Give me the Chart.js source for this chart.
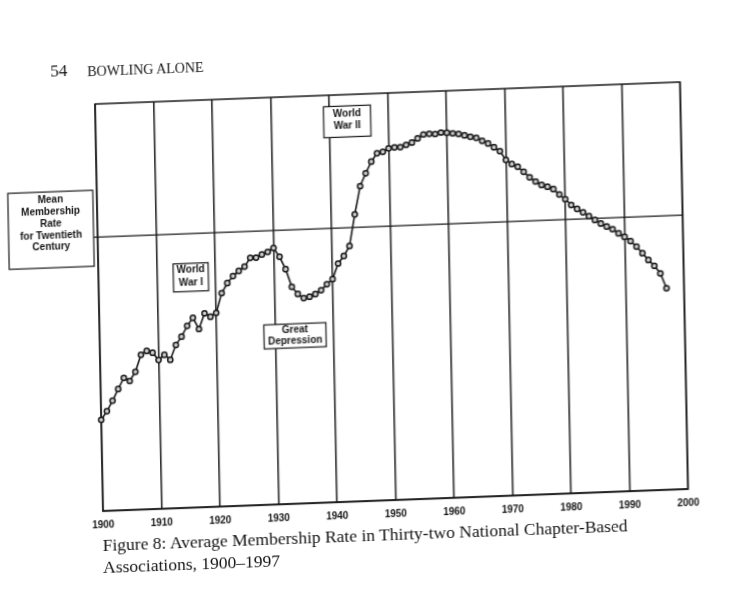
<!DOCTYPE html>
<html lang="en">
<head>
    <meta charset="utf-8">
    <title>Figure 8: Average Membership Rate in Thirty-two National Chapter-Based Associations, 1900–1997</title>
    <script src="https://cdn.jsdelivr.net/npm/chart.js"></script>
    <style>
        html, body {
            margin: 0;
            padding: 0;
            background: #fff;
        }

        body {
            width: 731px;
            height: 605px;
            overflow: hidden;
        }

        /* the scanned page sits slightly skewed, so the whole sheet is skewed the same way */
        .page {
            position: relative;
            width: 731px;
            height: 605px;
            transform-origin: 95px 104px;
            transform: matrix(1, -0.0376, 0.0197, 1, 0, 0);
            color: #141414;
        }

        .page canvas {
            position: absolute;
            left: 0;
            top: 0;
        }

        .folio {
            position: absolute;
            left: 51px;
            top: 61px;
            font-family: "Liberation Serif", serif;
            font-size: 17px;
            line-height: 17px;
        }

        .running-head {
            position: absolute;
            left: 88px;
            top: 65px;
            font-family: "Liberation Serif", serif;
            font-size: 14px;
            line-height: 14px;
        }

        .caption {
            position: absolute;
            left: 94px;
            top: 535px;
            font-family: "Liberation Serif", serif;
            font-size: 17.5px;
            line-height: 21.5px;
        }
    </style>
</head>
<body>
    <div class="page">
        <canvas id="membershipChart" width="731" height="605"></canvas>
        <div class="folio">54</div>
        <div class="running-head">BOWLING ALONE</div>
        <div class="caption">Figure 8: Average Membership Rate in Thirty-two National Chapter-Based<br>Associations, 1900–1997</div>
    </div>

    <script>
        // 数据：每年一个点，1900 - 1997（纵轴无刻度，按图高 0-100 估读）
        const startYear = 1900;
        const membershipRate = [
            22.4, 24.5, 27.0, 29.8, 32.5, 31.7, 33.9, 38.0, 38.9, 38.4,
            36.6, 37.8, 36.5, 40.1, 42.1, 44.7, 46.6, 43.8, 47.6, 46.7,
            47.6, 52.4, 54.8, 56.5, 57.7, 58.7, 60.8, 60.8, 61.5, 62.1,
            63.0, 60.8, 57.7, 53.3, 51.5, 50.4, 50.7, 51.3, 52.2, 53.6,
            54.8, 58.6, 60.4, 62.8, 70.5, 77.4, 80.5, 83.3, 85.3, 85.6,
            86.4, 86.6, 86.6, 87.1, 87.6, 88.6, 89.5, 89.6, 89.5, 89.8,
            89.7, 89.5, 89.3, 88.9, 88.5, 88.2, 87.4, 86.7, 85.7, 84.7,
            82.5, 81.4, 80.7, 79.4, 78.0, 76.9, 76.0, 75.5, 74.9, 73.5,
            72.3, 70.8, 69.8, 68.9, 67.9, 66.9, 66.0, 65.2, 64.5, 63.4,
            62.5, 61.4, 60.0, 58.3, 56.6, 55.1, 53.2, 49.5
        ];
        const years = membershipRate.map((v, i) => startYear + i);
        const decadeTicks = [1900, 1910, 1920, 1930, 1940, 1950, 1960, 1970, 1980, 1990, 2000];
        const meanRate = 67.3;

        const meanLabel = ['Mean', 'Membership', 'Rate', 'for Twentieth', 'Century'];
        const eventLabels = [['World', 'War I'], ['World', 'War II'], ['Great', 'Depression']];

        // 标注框的位置（左上角，按数据坐标）和尺寸
        const eventBoxes = [
            { year: 1912.8, value: 60.0, w: 35, h: 28, first: 6.7, step: 12.4 },
            { year: 1939.0, value: 97.2, w: 47, h: 31, first: 8.3, step: 11.5 },
            { year: 1928.1, value: 44.2, w: 62, h: 24, first: 6.3, step: 10.7 }
        ];
        const meanBox = { gap: 4, above: 47, w: 85, h: 76, first: 8, step: 11.9 };

        const INK = '#161616';
        const LABEL_FONT = 'bold 10px "Liberation Sans", Arial, sans-serif';

        function drawBox(ctx, left, top, box, lines) {
            ctx.fillStyle = '#fff';
            ctx.fillRect(left, top, box.w, box.h);
            ctx.strokeStyle = INK;
            ctx.lineWidth = 1.2;
            ctx.strokeRect(left, top, box.w, box.h);
            ctx.fillStyle = INK;
            ctx.font = LABEL_FONT;
            ctx.textAlign = 'center';
            ctx.textBaseline = 'middle';
            lines.forEach((line, i) => {
                ctx.fillText(line, left + box.w / 2, top + box.first + i * box.step);
            });
        }

        // 边框、均值线和标注框，画在折线下面
        const bookAnnotations = {
            id: 'bookAnnotations',
            beforeDatasetsDraw(chart) {
                const { ctx, chartArea: a, scales: { x, y } } = chart;
                ctx.save();

                ctx.strokeStyle = INK;
                ctx.lineWidth = 1.5;
                ctx.strokeRect(a.left, a.top, a.right - a.left, a.bottom - a.top);

                const meanY = y.getPixelForValue(meanRate);
                const boxLeft = a.left - meanBox.gap - meanBox.w;
                ctx.lineWidth = 1.3;
                ctx.beginPath();
                ctx.moveTo(boxLeft + meanBox.w, meanY);
                ctx.lineTo(a.right, meanY);
                ctx.stroke();
                drawBox(ctx, boxLeft, meanY - meanBox.above, meanBox, meanLabel);

                eventBoxes.forEach((box, i) => {
                    drawBox(ctx, x.getPixelForValue(box.year), y.getPixelForValue(box.value), box, eventLabels[i]);
                });

                ctx.restore();
            }
        };

        new Chart(document.getElementById('membershipChart'), {
            type: 'line',
            data: {
                datasets: [{
                    label: 'Average membership rate',
                    data: years.map((yr, i) => ({ x: yr, y: membershipRate[i] })),
                    borderColor: INK,
                    borderWidth: 1.6,
                    pointRadius: 2.6,
                    pointBorderWidth: 1.5,
                    pointBorderColor: INK,
                    pointBackgroundColor: '#d0d0d0',
                    tension: 0,
                    clip: false
                }]
            },
            options: {
                responsive: false,
                animation: false,
                layout: {
                    padding: { left: 95, top: 104, right: 51, bottom: 64 }
                },
                plugins: {
                    legend: { display: false },
                    tooltip: { enabled: false }
                },
                scales: {
                    x: {
                        type: 'linear',
                        min: 1900,
                        max: 2000,
                        afterBuildTicks: (scale) => {
                            scale.ticks = decadeTicks.map(v => ({ value: v }));
                        },
                        afterFit: (scale) => {
                            scale.height = 30;
                        },
                        ticks: {
                            autoSkip: false,
                            maxRotation: 0,
                            padding: 8,
                            color: INK,
                            font: { family: '"Liberation Sans", Arial, sans-serif', size: 10, weight: 'bold' },
                            callback: (v) => String(v)
                        },
                        grid: {
                            color: INK,
                            lineWidth: 1.5,
                            drawTicks: false
                        },
                        border: { color: INK, width: 1.8 }
                    },
                    y: {
                        display: false,
                        min: 0,
                        max: 100
                    }
                }
            },
            plugins: [bookAnnotations]
        });
    </script>
</body>
</html>
